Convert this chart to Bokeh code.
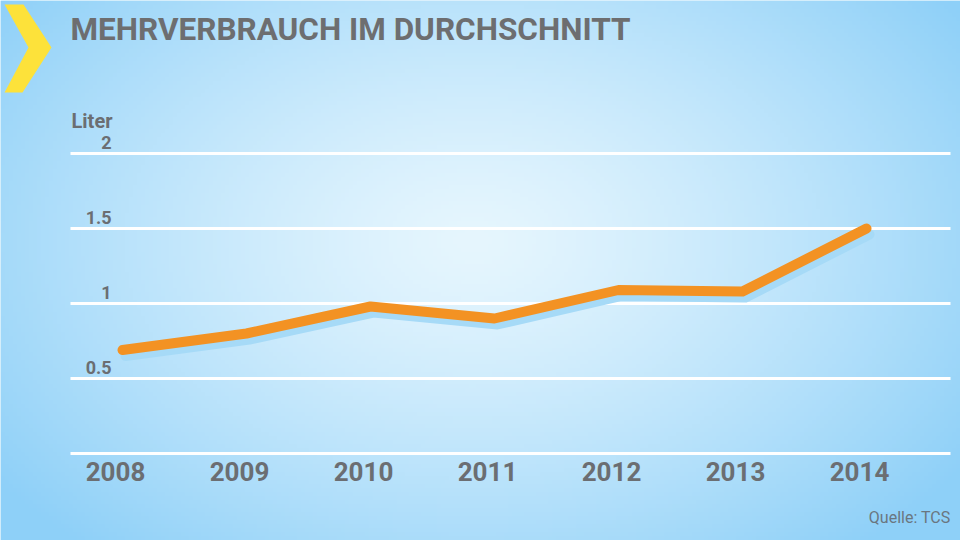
import numpy as np
from bokeh.plotting import figure
from bokeh.models import Label, ColumnDataSource
from bokeh.embed import file_html
from bokeh.resources import INLINE
from bokeh.core.properties import value

# ---- data ----
years = [2008, 2009, 2010, 2011, 2012, 2013, 2014]
year_labels = ["2008", "2009", "2010", "2011", "2012", "2013", "2014"]
liters = [0.69, 0.80, 0.98, 0.90, 1.09, 1.08, 1.50]
grid_values = [0, 0.5, 1, 1.5, 2]
y_tick_values = [0.5, 1, 1.5, 2]
y_tick_labels = ["0.5", "1", "1.5", "2"]
title_text = "MEHRVERBRAUCH IM DURCHSCHNITT"
unit_text = "Liter"
source_text = "Quelle: TCS"

W, H = 960, 540
PX_PER_YEAR = 124.0
PX_PER_UNIT = 150.0
x_start = 2008 - 122 / PX_PER_YEAR
x_end = x_start + W / PX_PER_YEAR
y_start = -87 / PX_PER_UNIT
y_end = y_start + H / PX_PER_UNIT

def px_x(px):
    return x_start + px / PX_PER_YEAR

def px_y(py_top):
    return y_start + (H - py_top) / PX_PER_UNIT

p = figure(width=W, height=H, x_range=(x_start, x_end), y_range=(y_start, y_end),
           output_backend="svg", toolbar_location=None,
           x_axis_location=None, y_axis_location=None, min_border=0)
p.grid.visible = False
p.outline_line_color = None
p.background_fill_color = "#cfeefc"
p.border_fill_color = "#cfeefc"

# ---- radial gradient background ----
gh, gw = 135, 240
yy, xx = np.mgrid[0:gh, 0:gw]
cx, cy = 0.49 * gw, 0.55 * gh
d = np.sqrt(((xx - cx) / (0.62 * gw)) ** 2 + ((yy - cy) / (0.75 * gh)) ** 2)
d = np.clip(d, 0, 1) ** 1.3
c0 = np.array([0xe6, 0xf6, 0xfe], dtype=float)
c1 = np.array([0x8e, 0xd0, 0xf8], dtype=float)
rgb = c0[None, None, :] * (1 - d[..., None]) + c1[None, None, :] * d[..., None]
img = np.empty((gh, gw), dtype=np.uint32)
view = img.view(dtype=np.uint8).reshape((gh, gw, 4))
view[..., 0] = rgb[..., 0].astype(np.uint8)
view[..., 1] = rgb[..., 1].astype(np.uint8)
view[..., 2] = rgb[..., 2].astype(np.uint8)
view[..., 3] = 255
p.image_rgba(image=[img], x=x_start, y=y_start, dw=x_end - x_start, dh=y_end - y_start)

# ---- chevron ----
chev_px = [(4, 4), (23, 4), (51, 47), (22, 92), (4, 92), (28, 47)]
p.patch([px_x(a) for a, b in chev_px], [px_y(b) for a, b in chev_px],
        fill_color="#fde23a", line_color=None)

# ---- gridlines ----
p.segment(x0=[px_x(70)] * len(grid_values), x1=[px_x(950)] * len(grid_values),
          y0=grid_values, y1=grid_values, line_color="white", line_width=3)

# ---- y tick labels ----
p.text(x=[px_x(111)] * len(y_tick_values), y=y_tick_values, text=y_tick_labels,
       text_align="right", text_baseline="alphabetic", y_offset=-11,
       text_font=value("Roboto"), text_font_style="bold", text_font_size="18px",
       text_color="#6b6e72")
p.text(x=[px_x(112)], y=[2], text=[unit_text], text_align="right",
       text_baseline="alphabetic", y_offset=-33,
       text_font=value("Roboto"), text_font_style="bold", text_font_size="20px",
       text_color="#6b6e72")

# ---- x tick labels ----
p.text(x=years, y=[0] * len(years), text=year_labels, text_align="center",
       text_baseline="alphabetic", x_offset=-7, y_offset=18,
       text_font=value("Roboto"), text_font_style="bold", text_font_size="26px",
       text_color="#6b6e72")

# ---- line with shadow ----
src = ColumnDataSource(dict(x=years, y=liters))
p.line(x=[v + 3 / PX_PER_YEAR for v in years], y=[v - 6 / PX_PER_UNIT for v in liters],
       line_color="#a6daf7", line_width=10, line_cap="round", line_join="round")
p.line(x="x", y="y", source=src, line_color="#f39223", line_width=10,
       line_cap="round", line_join="round")

# ---- title and source ----
p.add_layout(Label(x=70, y=H - 29, x_units="screen", y_units="screen", text=title_text,
                   text_font="Roboto", text_font_style="bold", text_font_size="31.5px",
                   text_color="#6d6e70", text_baseline="alphabetic"))
p.add_layout(Label(x=950, y=H - 517, x_units="screen", y_units="screen", text=source_text,
                   text_font="Roboto", text_font_size="16px", text_color="#6a7680",
                   text_align="right", text_baseline="alphabetic"))

open("out.html", "w").write(file_html(p, INLINE))
